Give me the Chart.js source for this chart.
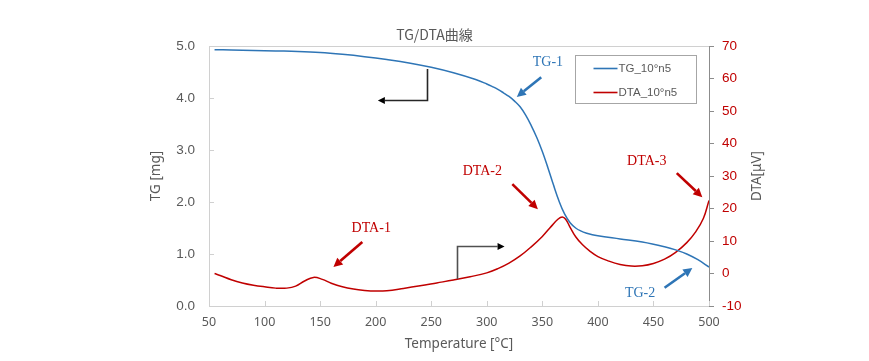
<!DOCTYPE html>
<html><head><meta charset="utf-8">
<script src="https://cdn.jsdelivr.net/npm/chart.js@4"></script>
<style>html,body{margin:0;padding:0;background:#fff}</style>
</head><body>
<canvas id="c" width="869" height="361"></canvas>
<script>
// ---- data ----
const chartTitle = 'TG/DTA曲線';
const xTitle = 'Temperature [°C]';
const tgTitle = 'TG [mg]';
const dtaTitle = 'DTA[μV]';
const xTickValues = [50, 100, 150, 200, 250, 300, 350, 400, 450, 500];
const tgTickValues = [0, 1, 2, 3, 4, 5];
const dtaTickValues = [-10, 0, 10, 20, 30, 40, 50, 60, 70];

const tgTemps  = [55, 70, 90, 110, 130, 150, 170, 190, 210, 230, 250, 270, 290, 300, 305, 310, 315, 320, 325, 330, 335, 340, 345, 350, 355, 360, 365, 370, 375, 380, 385, 390, 395, 400, 420, 440, 460, 470, 480, 490, 500];
const tgValues = [4.93, 4.925, 4.915, 4.905, 4.895, 4.875, 4.84, 4.795, 4.74, 4.675, 4.59, 4.485, 4.355, 4.27, 4.22, 4.165, 4.10, 4.03, 3.94, 3.83, 3.67, 3.47, 3.24, 2.97, 2.66, 2.33, 2.02, 1.77, 1.60, 1.50, 1.44, 1.40, 1.37, 1.35, 1.29, 1.23, 1.14, 1.08, 1.00, 0.89, 0.75];

const dtaTemps  = [55, 60, 70, 80, 90, 100, 110, 120, 128, 136, 144, 152, 160, 170, 180, 190, 200, 210, 225, 240, 255, 270, 285, 300, 310, 320, 330, 340, 350, 358, 364, 368, 371, 375, 380, 386, 393, 400, 410, 420, 430, 440, 450, 460, 470, 480, 488, 495, 500];
const dtaValues = [0.0, -0.6, -1.9, -2.9, -3.6, -4.1, -4.5, -4.5, -3.9, -2.3, -1.2, -1.8, -3.0, -4.1, -4.8, -5.2, -5.4, -5.3, -4.6, -3.8, -2.9, -2.0, -1.0, 0.2, 1.5, 3.2, 5.4, 8.2, 11.4, 14.5, 16.7, 17.4, 16.7, 14.2, 11.3, 8.9, 6.8, 5.2, 3.8, 2.8, 2.3, 2.4, 3.1, 4.4, 6.5, 9.5, 12.8, 17.0, 22.5];

// annotation labels: [text, axis, T, value]
const noteLabels = [
  ['TG-1', 'y', 355, 4.69],
  ['TG-2', 'y', 438, 0.25],
  ['DTA-1', 'y1', 196, 14.0],
  ['DTA-2', 'y1', 296, 31.5],
  ['DTA-3', 'y1', 444, 34.6]
];
// annotation arrows: [axis, T0, v0, T1, v1]
const noteArrows = [
  ['y', 349, 4.40, 327, 4.02],
  ['y', 460, 0.35, 485, 0.73],
  ['y1', 188, 9.7, 162, 2.0],
  ['y1', 323, 27.5, 346, 19.8],
  ['y1', 471, 30.9, 494, 23.5]
];
// elbow arrows: [axis, T0, v0, vCorner, T1]
const elbowArrows = [
  ['y', 246, 4.56, 3.96, 202],
  ['y1', 273, -1.7, 8.5, 316]
];

const TG_COLOR = '#2e75b6';
const DTA_COLOR = '#c00000';
const GREY = '#595959';

function pts(xs, ys) { return xs.map((x, i) => ({x: x, y: ys[i]})); }

function drawArrow(ctx, x0, y0, x1, y1, color, lw, hl, hw) {
  const ang = Math.atan2(y1 - y0, x1 - x0);
  const bx = x1 - hl * Math.cos(ang), by = y1 - hl * Math.sin(ang);
  ctx.save();
  ctx.strokeStyle = color; ctx.fillStyle = color; ctx.lineWidth = lw;
  ctx.beginPath(); ctx.moveTo(x0, y0); ctx.lineTo(bx, by); ctx.stroke();
  ctx.beginPath();
  ctx.moveTo(x1, y1);
  ctx.lineTo(bx + hw / 2 * Math.sin(ang), by - hw / 2 * Math.cos(ang));
  ctx.lineTo(bx - hw / 2 * Math.sin(ang), by + hw / 2 * Math.cos(ang));
  ctx.closePath(); ctx.fill();
  ctx.restore();
}

const decor = {
  id: 'decor',
  beforeDatasetsDraw(chart) {
    const {ctx, chartArea: a, scales} = chart;
    ctx.save();
    ctx.strokeStyle = '#d0d0d0'; ctx.lineWidth = 1;
    ctx.beginPath(); ctx.moveTo(a.left, a.top + 0.5); ctx.lineTo(a.right, a.top + 0.5); ctx.stroke();
    tgTickValues.forEach(v => {
      const y = Math.round(scales.y.getPixelForValue(v)) + 0.5;
      ctx.beginPath(); ctx.moveTo(a.left, y); ctx.lineTo(a.left + 5, y); ctx.stroke();
    });
    xTickValues.forEach(v => {
      const x = Math.round(scales.x.getPixelForValue(v)) + 0.5;
      ctx.beginPath(); ctx.moveTo(x, a.bottom); ctx.lineTo(x, a.bottom - 5); ctx.stroke();
    });
    ctx.fillStyle = GREY;
    ctx.font = '13.5px "Noto Sans", sans-serif';
    ctx.textAlign = 'center'; ctx.textBaseline = 'middle';
    ctx.translate(757, (a.top + a.bottom) / 2);
    ctx.rotate(-Math.PI / 2);
    ctx.fillText(dtaTitle, 0, 0);
    ctx.restore();
  },
  afterDatasetsDraw(chart) {
    const {ctx, scales} = chart;
    const X = v => scales.x.getPixelForValue(v);
    ctx.save();
    ctx.fillStyle = GREY;
    ctx.font = '14px "Noto Sans CJK JP", "Noto Sans", sans-serif';
    ctx.textAlign = 'center'; ctx.textBaseline = 'middle';
    ctx.fillText(chartTitle, chart.width / 2, 35);
    ctx.font = '14px "Liberation Serif", "DejaVu Serif", serif';
    noteLabels.forEach(([t, ax, T, v]) => {
      ctx.fillStyle = ax === 'y' ? TG_COLOR : DTA_COLOR;
      ctx.fillText(t, X(T), scales[ax].getPixelForValue(v));
    });
    noteArrows.forEach(([ax, T0, v0, T1, v1]) => {
      const c = ax === 'y' ? TG_COLOR : DTA_COLOR;
      drawArrow(ctx, X(T0), scales[ax].getPixelForValue(v0), X(T1), scales[ax].getPixelForValue(v1), c, 2.6, 9, 9);
    });
    elbowArrows.forEach(([ax, T0, v0, vc, T1], i) => {
      const c = i === 0 ? '#262626' : '#505050';
      const x0 = Math.round(X(T0)) + 0.5;
      const y0 = scales[ax].getPixelForValue(v0);
      const yc = Math.round(scales[ax].getPixelForValue(vc)) + 0.5;
      const dir = Math.sign(X(T1) - x0);
      ctx.save();
      ctx.strokeStyle = c; ctx.lineWidth = 1.6;
      ctx.beginPath(); ctx.moveTo(x0, y0); ctx.lineTo(x0, yc); ctx.lineTo(X(T1) - dir * 7, yc); ctx.stroke();
      ctx.restore();
      drawArrow(ctx, X(T1) - dir * 7, yc, X(T1), yc, '#000', 1.6, 7, 7);
    });
    const lx = 575.5, ly = 55.5, lw = 121, lh = 48;
    ctx.strokeStyle = '#a6a6a6'; ctx.lineWidth = 1;
    ctx.fillStyle = '#fff';
    ctx.fillRect(lx, ly, lw, lh); ctx.strokeRect(lx, ly, lw, lh);
    ctx.font = '11.5px "Liberation Sans", Arial, sans-serif';
    ctx.textAlign = 'left'; ctx.textBaseline = 'middle';
    chart.data.datasets.forEach((ds, i) => {
      const yy = ly + 13 + i * 24;
      ctx.strokeStyle = ds.borderColor; ctx.lineWidth = 1.6;
      ctx.beginPath(); ctx.moveTo(lx + 18, yy); ctx.lineTo(lx + 42, yy); ctx.stroke();
      ctx.fillStyle = GREY;
      ctx.fillText(ds.label, lx + 43, yy);
    });
    ctx.restore();
  }
};

const axisFont = {family: '"Liberation Sans", Arial, sans-serif', size: 13.5};
const titleFont = {family: '"Noto Sans", sans-serif', size: 13.5};

new Chart(document.getElementById('c'), {
  type: 'line',
  data: {
    datasets: [
      {label: 'TG_10°n5', data: pts(tgTemps, tgValues), yAxisID: 'y', borderColor: TG_COLOR, borderWidth: 1.5, pointRadius: 0, tension: 0.4, fill: false},
      {label: 'DTA_10°n5', data: pts(dtaTemps, dtaValues), yAxisID: 'y1', borderColor: DTA_COLOR, borderWidth: 1.5, pointRadius: 0, tension: 0.4, fill: false}
    ]
  },
  options: {
    responsive: false,
    animation: false,
    devicePixelRatio: 1,
    layout: {padding: {left: 148, right: 101, top: 46, bottom: 9}},
    plugins: {legend: {display: false}, title: {display: false}, tooltip: {enabled: false}},
    scales: {
      x: {
        type: 'linear', min: 50, max: 500,
        afterBuildTicks: s => { s.ticks = xTickValues.map(v => ({value: v})); },
        afterFit: s => { s.height = 46; },
        ticks: {color: GREY, font: {family: '"Noto Sans", sans-serif', size: 12.5}, padding: 9, maxRotation: 0, autoSkip: false},
        grid: {display: false, drawTicks: false},
        border: {display: true, color: '#d0d0d0', width: 1},
        title: {display: true, text: xTitle, color: GREY, font: titleFont, padding: {top: 2, bottom: 0}}
      },
      y: {
        position: 'left', min: 0, max: 5,
        afterBuildTicks: s => { s.ticks = tgTickValues.map(v => ({value: v})); },
        afterFit: s => { s.width = 61; },
        ticks: {color: GREY, font: axisFont, padding: 14, callback: v => Number(v).toFixed(1)},
        grid: {display: false, drawTicks: false},
        border: {display: true, color: '#d0d0d0', width: 1},
        title: {display: true, text: tgTitle, color: GREY, font: titleFont, padding: {top: 0, bottom: 4}}
      },
      y1: {
        position: 'right', min: -10, max: 70,
        afterBuildTicks: s => { s.ticks = dtaTickValues.map(v => ({value: v})); },
        afterFit: s => { s.width = 59; },
        ticks: {color: DTA_COLOR, font: axisFont, padding: 8},
        grid: {display: true, drawOnChartArea: false, drawTicks: true, tickLength: 5, color: '#8c8c8c'},
        border: {display: true, color: '#8c8c8c', width: 1},
        title: {display: false}
      }
    }
  },
  plugins: [decor]
});
</script>
</body></html>
